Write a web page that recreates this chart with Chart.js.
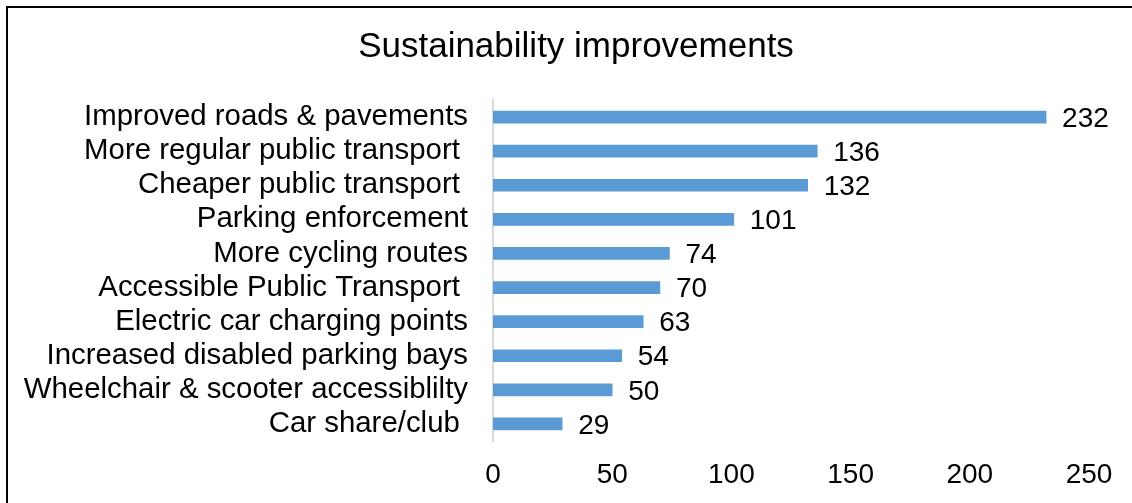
<!DOCTYPE html>
<html>
<head>
<meta charset="utf-8">
<script src="https://cdn.jsdelivr.net/npm/chart.js@4/dist/chart.umd.min.js"></script>
<style>
  html, body { margin: 0; padding: 0; background: #fff; }
  #wrap { width: 1132px; height: 503px; position: relative; }
</style>
</head>
<body>
<div id="wrap"><canvas id="chartCanvas"></canvas></div>
<script>
// datos
const categorias = [
    'Improved roads & pavements',
    'More regular public transport ',
    'Cheaper public transport ',
    'Parking enforcement',
    'More cycling routes',
    'Accessible Public Transport ',
    'Electric car charging points',
    'Increased disabled parking bays',
    'Wheelchair & scooter accessiblilty',
    'Car share/club '
];
const valores = [232, 136, 132, 101, 74, 70, 63, 54, 50, 29];
const ticksX = [0, 50, 100, 150, 200, 250];
const titulo = 'Sustainability improvements';

const fuente = "'Liberation Sans', Arial, sans-serif";

// marco del grafico (solo izquierda y arriba se ven) y titulo
const marco = {
    id: 'marco',
    beforeDraw(chart) {
        const ctx = chart.ctx;
        ctx.save();
        ctx.fillStyle = '#fff';
        ctx.fillRect(0, 0, chart.width, chart.height);
        ctx.strokeStyle = '#000';
        ctx.lineWidth = 2;
        ctx.beginPath();
        ctx.moveTo(7, chart.height);
        ctx.lineTo(7, 7);
        ctx.lineTo(chart.width, 7);
        ctx.stroke();
        // titulo centrado en el marco, no en el area del grafico
        ctx.font = '35px ' + fuente;
        ctx.fillStyle = '#000';
        ctx.textAlign = 'center';
        ctx.textBaseline = 'middle';
        ctx.fillText(titulo, 576, 47);
        ctx.restore();
    }
};

// etiquetas de valor al final de cada barra
const etiquetas = {
    id: 'etiquetas',
    afterDatasetsDraw(chart) {
        const ctx = chart.ctx;
        const meta = chart.getDatasetMeta(0);
        ctx.save();
        ctx.font = '28px ' + fuente;
        ctx.fillStyle = '#000';
        ctx.textAlign = 'left';
        ctx.textBaseline = 'middle';
        meta.data.forEach((bar, i) => {
            ctx.fillText(String(valores[i]), bar.x + 16, bar.y + 2);
        });
        ctx.restore();
    }
};

const ctx = document.getElementById('chartCanvas').getContext('2d');
const chart = new Chart(ctx, {
    type: 'bar',
    data: {
        labels: categorias,
        datasets: [{
            data: valores,
            backgroundColor: '#5b9bd5',
            borderWidth: 0,
            barThickness: 12
        }]
    },
    options: {
        indexAxis: 'y',
        responsive: true,
        maintainAspectRatio: false,
        animation: false,
        layout: { padding: { left: 0, right: 43, top: 100, bottom: 0 } },
        plugins: {
            legend: { display: false },
            tooltip: { enabled: false },
            title: { display: false }
        },
        scales: {
            x: {
                min: 0,
                max: 250,
                afterBuildTicks(axis) {
                    axis.ticks = ticksX.map(v => ({ value: v }));
                },
                grid: { display: false, drawTicks: false },
                border: { display: false },
                ticks: {
                    color: '#000',
                    padding: 17,
                    maxRotation: 0,
                    font: { family: fuente, size: 28 }
                },
                afterFit(axis) { axis.height = 62; }
            },
            y: {
                grid: { display: false, drawTicks: false },
                border: { display: true, color: '#d9d9d9', width: 2 },
                ticks: {
                    color: '#000',
                    padding: 25,
                    autoSkip: false,
                    font: { family: fuente, size: 29.4 }
                },
                afterFit(axis) { axis.width = 493; }
            }
        }
    },
    plugins: [marco, etiquetas]
});
</script>
</body>
</html>
